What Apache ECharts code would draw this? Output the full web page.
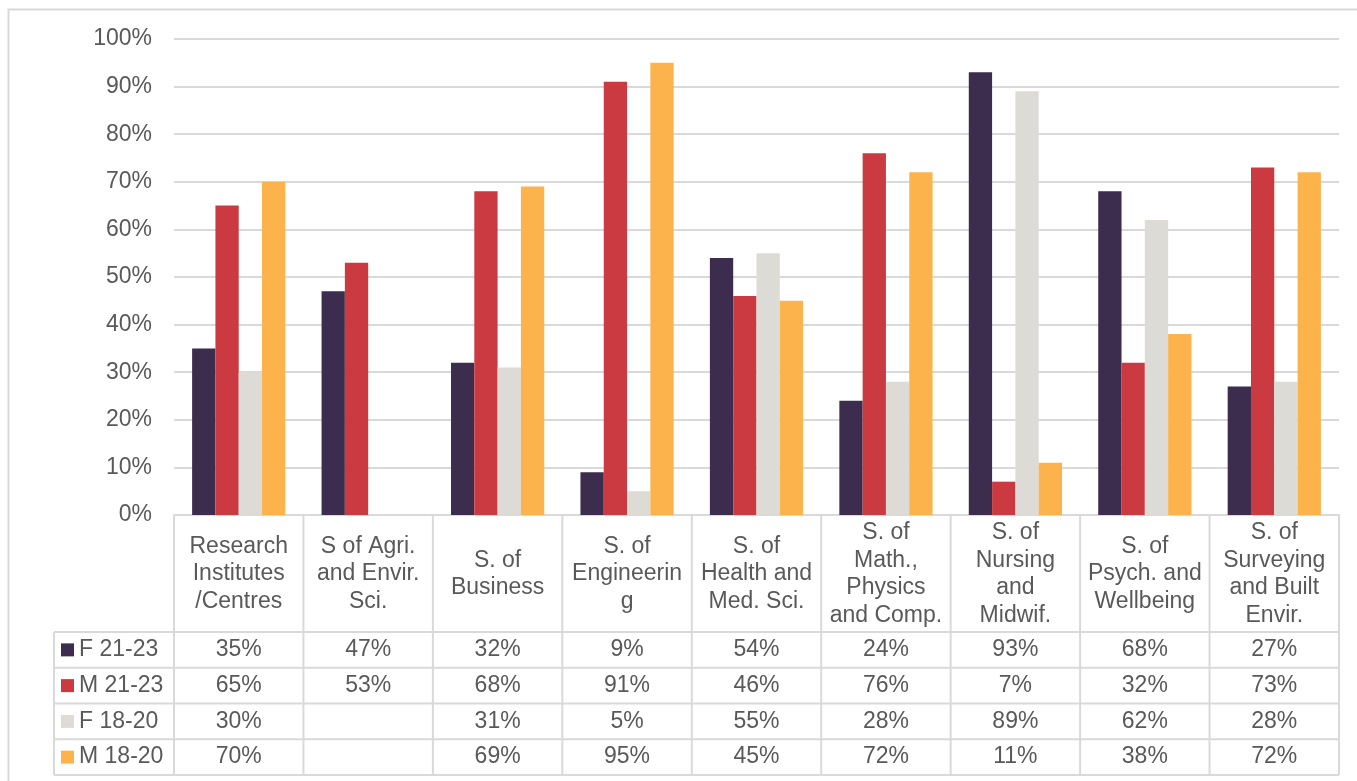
<!DOCTYPE html>
<html>
<head>
<meta charset="utf-8">
<script src="https://cdn.jsdelivr.net/npm/echarts@6/dist/echarts.min.js"></script>
<style>
html,body{margin:0;padding:0;background:#fff;}
#main{width:1357px;height:781px;}
</style>
</head>
<body>
<div id="main"></div>
<script>
const categories = [
  'Research\nInstitutes\n/Centres',
  'S of Agri.\nand Envir.\nSci.',
  'S. of\nBusiness',
  'S. of\nEngineerin\ng',
  'S. of\nHealth and\nMed. Sci.',
  'S. of\nMath.,\nPhysics\nand Comp.',
  'S. of\nNursing\nand\nMidwif.',
  'S. of\nPsych. and\nWellbeing',
  'S. of\nSurveying\nand Built\nEnvir.'
];
const seriesNames = ['F 21-23', 'M 21-23', 'F 18-20', 'M 18-20'];
const f2123 = [35, 47, 32, 9, 54, 24, 93, 68, 27];
const m2123 = [65, 53, 68, 91, 46, 76, 7, 32, 73];
const f1820 = [30, null, 31, 5, 55, 28, 89, 62, 28];
const m1820 = [70, null, 69, 95, 45, 72, 11, 38, 72];
const yMin = 0, yMax = 100, yStep = 10;
const colors = ['#3C2C4D', '#CB3A41', '#DCDBD6', '#FDB34B'];

const seriesData = [f2123, m2123, f1820, m1820];
const textColor = '#595959';
const lineColor = '#D9D9D9';
const fontFamily = 'Liberation Sans, Arial, sans-serif';
const fontSize = 23;

const chart = echarts.init(document.getElementById('main'));
const gridLeft = 174, gridRight = 18, gridTop = 39, gridBottom = 266;

chart.setOption({
  animation: false,
  backgroundColor: '#fff',
  grid: { left: gridLeft, right: gridRight, top: gridTop, bottom: gridBottom, containLabel: false },
  xAxis: {
    type: 'category',
    data: categories,
    axisLine: { show: true, lineStyle: { color: lineColor, width: 2 } },
    axisTick: { show: false },
    axisLabel: {
      show: true, interval: 0, color: textColor, fontFamily: fontFamily, fontSize: fontSize,
      lineHeight: 27.5, verticalAlign: 'middle', margin: 59, align: 'center'
    }
  },
  yAxis: {
    type: 'value', min: yMin, max: yMax, interval: yStep,
    axisLine: { show: false }, axisTick: { show: false },
    axisLabel: { formatter: '{value}%', color: textColor, fontFamily: fontFamily, fontSize: fontSize, margin: 22 },
    splitLine: { lineStyle: { color: lineColor, width: 2 } }
  },
  series: seriesNames.map((n, i) => ({
    name: n, type: 'bar', data: seriesData[i],
    itemStyle: { color: colors[i] },
    barGap: '0%', barCategoryGap: '28%'
  }))
});

function drawTable() {
  const c0 = chart.convertToPixel({ xAxisIndex: 0 }, 0);
  const c1 = chart.convertToPixel({ xAxisIndex: 0 }, 1);
  const band = c1 - c0;
  const left0 = c0 - band / 2;
  const right = left0 + band * categories.length;
  const axisY = chart.convertToPixel({ yAxisIndex: 0 }, yMin);
  const headerBottom = 632;
  const rowH = (775 - headerBottom) / seriesNames.length;
  const tableLeft = 54;
  const els = [];
  const ls = { stroke: lineColor, lineWidth: 2 };
  // outer border
  els.push({ type: 'rect', shape: { x: 8.5, y: 9.5, width: 1400, height: 800 }, style: { fill: null, stroke: lineColor, lineWidth: 2 }, silent: true });
  // vertical lines
  for (let i = 0; i <= categories.length; i++) {
    const x = left0 + band * i;
    els.push({ type: 'line', shape: { x1: x, y1: axisY, x2: x, y2: 775 }, style: ls, silent: true });
  }
  els.push({ type: 'line', shape: { x1: tableLeft, y1: headerBottom, x2: tableLeft, y2: 775 }, style: ls, silent: true });
  // horizontal lines
  for (let r = 0; r <= seriesNames.length; r++) {
    const y = headerBottom + rowH * r;
    els.push({ type: 'line', shape: { x1: tableLeft, y1: y, x2: right, y2: y }, style: ls, silent: true });
  }
  // rows
  seriesNames.forEach((n, r) => {
    const cy = headerBottom + rowH * (r + 0.5);
    els.push({ type: 'rect', shape: { x: 61, y: cy - 6.5, width: 13, height: 13 }, style: { fill: colors[r] }, silent: true });
    els.push({ type: 'text', x: 79, y: cy, style: { text: n, fill: textColor, font: fontSize + 'px ' + fontFamily, textAlign: 'left', textVerticalAlign: 'middle' }, silent: true });
    seriesData[r].forEach((v, i) => {
      if (v === null) return;
      const cx = chart.convertToPixel({ xAxisIndex: 0 }, i);
      els.push({ type: 'text', x: cx, y: cy, style: { text: v + '%', fill: textColor, font: fontSize + 'px ' + fontFamily, textAlign: 'center', textVerticalAlign: 'middle' }, silent: true });
    });
  });
  chart.setOption({ graphic: { elements: els } });
}
drawTable();
</script>
</body>
</html>
